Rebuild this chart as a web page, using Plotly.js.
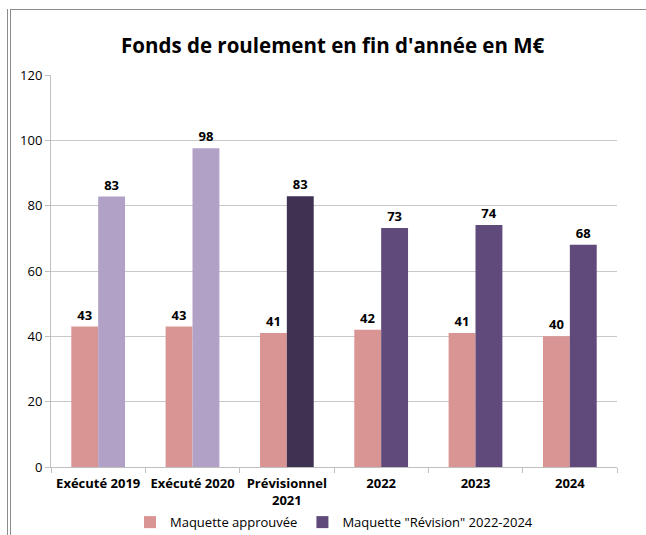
<!DOCTYPE html>
<html><head><meta charset="utf-8">
<script src="https://cdn.plot.ly/plotly-3.0.1.min.js"></script>
<style>
html,body{margin:0;padding:0;background:#fff;}
#wrap{position:relative;width:646px;height:535px;overflow:hidden;}
#chart{position:absolute;left:0;top:0;width:646px;height:535px;}
.vl{position:absolute;top:9px;bottom:0;width:1px;background:#8c8c8c;}
.hl{position:absolute;left:10px;right:0;top:9px;height:1px;background:#8c8c8c;}
</style></head>
<body><div id="wrap"><div id="chart"></div>
<div class="vl" style="left:7px"></div><div class="vl" style="left:10px"></div><div class="hl"></div></div>
<script>
var categories = ["Exécuté 2019", "Exécuté 2020", "Prévisionnel<br>2021", "2022", "2023", "2024"];
var approuvee = [43, 43, 41, 42, 41, 40];
var revision = [82.8, 97.6, 82.9, 73.2, 74.1, 68];
var revisionColors = ["#B2A1C7", "#B2A1C7", "#3F3151", "#604A7B", "#604A7B", "#604A7B"];
var legendOnly = [null, null, null, null, null, null];
var labelFont = {family: "Open Sans, sans-serif", size: 13, color: "#000", weight: 700};
var traces = [
  {type: "bar", name: "Maquette approuvée", x: categories, y: approuvee, offsetgroup: "app",
   marker: {color: "#D99594"}, texttemplate: "%{y:.0f}", textposition: "outside",
   textfont: labelFont, cliponaxis: false, hoverinfo: "none"},
  {type: "bar", name: "Maquette \"Révision\" 2022-2024", x: categories, y: revision, offsetgroup: "rev",
   marker: {color: revisionColors}, texttemplate: "%{y:.0f}", textposition: "outside", showlegend: false,
   textfont: labelFont, cliponaxis: false, hoverinfo: "none"},
  {type: "bar", name: "Maquette \"Révision\" 2022-2024", x: categories, y: legendOnly, offsetgroup: "rev",
   marker: {color: "#604A7B"}, hoverinfo: "none"}
];
var layout = {
  width: 646, height: 535,
  margin: {l: 51, r: 29, t: 75, b: 68, autoexpand: false},
  paper_bgcolor: "#fff", plot_bgcolor: "#fff",
  barmode: "group", bargap: 0.43, bargroupgap: 0,
  showlegend: true,
  title: {text: "<b>Fonds de roulement en fin d'année en M€</b>", x: 0.515, xanchor: "center", y: 0.915, yanchor: "middle",
          font: {family: "Open Sans, sans-serif", size: 20.5, color: "#000"}},
  font: {family: "Open Sans, sans-serif", color: "#000"},
  xaxis: {type: "category", showgrid: false, showline: true, linecolor: "#BFBFBF", linewidth: 1, automargin: false,
          ticks: "outside", tickson: "boundaries", ticklen: 5, tickcolor: "#BFBFBF", ticklabelstandoff: 4,
          tickfont: {family: "Open Sans, sans-serif", size: 13, color: "#000", weight: 700}},
  yaxis: {range: [0, 120], dtick: 20, showgrid: true, gridcolor: "#C8C8C8", showline: true, linecolor: "#BFBFBF",
          ticks: "outside", ticklen: 5, tickcolor: "#BFBFBF", zeroline: false, automargin: false,
          tickfont: {family: "Open Sans, sans-serif", size: 13, color: "#000"}},
  legend: {orientation: "h", x: 0.5, xanchor: "center", yref: "container", y: 0.024, yanchor: "middle",
           font: {family: "Open Sans, sans-serif", size: 13, color: "#000"}, traceorder: "normal"}
};
Plotly.newPlot("chart", traces, layout, {displayModeBar: false, staticPlot: true});
</script></body></html>
